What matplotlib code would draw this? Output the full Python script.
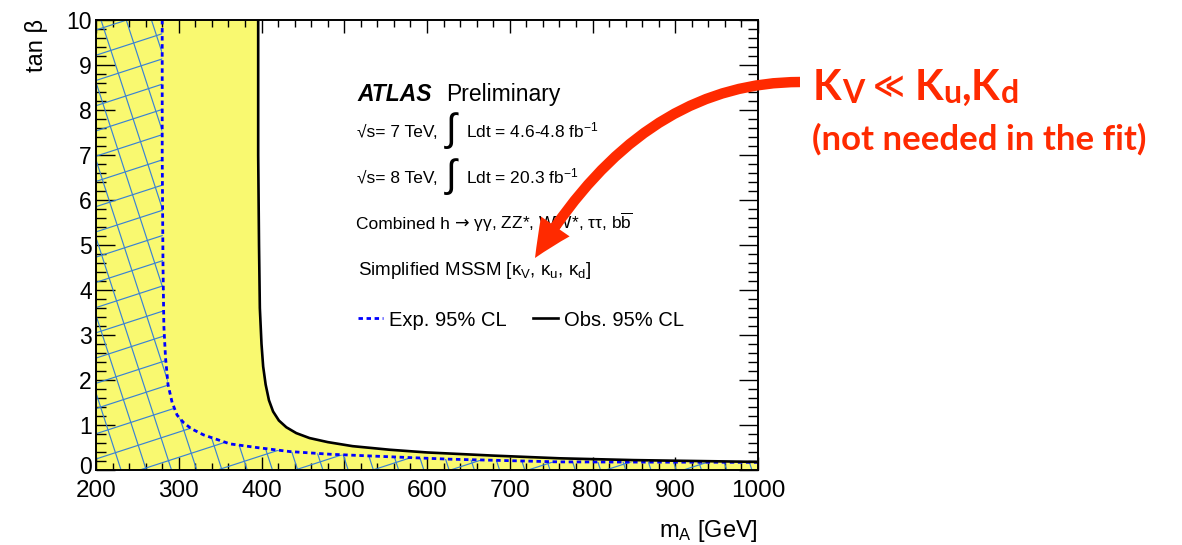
import numpy as np
import matplotlib
matplotlib.use("Agg")
import matplotlib.pyplot as plt
from matplotlib.patches import FancyArrowPatch
from matplotlib.lines import Line2D
from matplotlib.ticker import MultipleLocator
from matplotlib.transforms import ScaledTranslation

plt.rcParams['font.family'] = ['Liberation Sans', 'DejaVu Sans']
plt.rcParams['mathtext.fontset'] = 'custom'
plt.rcParams['mathtext.rm'] = 'Liberation Sans'
plt.rcParams['mathtext.it'] = 'Liberation Sans:italic'
plt.rcParams['mathtext.bf'] = 'Liberation Sans:bold'

# ---------------- data ----------------
x_lo, x_hi = 200, 1000
y_lo, y_hi = 0, 10

obs_mA = [396, 396, 397, 398, 400, 402, 405, 409, 414, 421, 430, 442, 458, 480, 510, 555, 600, 680, 760, 850, 1000]
obs_tanb = [10, 7, 5, 3.6, 2.8, 2.3, 1.9, 1.55, 1.3, 1.1, 0.95, 0.82, 0.71, 0.62, 0.53, 0.45, 0.39, 0.32, 0.26, 0.22, 0.18]

exp_mA = [280, 280, 281, 282, 284, 287, 292, 298, 306, 315, 330, 362, 394, 434, 483, 547, 628, 760, 1000]
exp_tanb = [10, 7, 4.5, 3.2, 2.5, 1.9, 1.5, 1.22, 1.05, 0.92, 0.78, 0.58, 0.5, 0.41, 0.35, 0.3, 0.24, 0.18, 0.17]

x_major = list(range(200, 1001, 100))
y_major = list(range(0, 11))

# ---------------- figure ----------------
W, H = 1182, 545
fig = plt.figure(figsize=(W / 100, H / 100), dpi=100)
ax_l, ax_t, ax_r, ax_b = 96, 20, 758, 470
ax = fig.add_axes([ax_l / W, 1 - ax_b / H, (ax_r - ax_l) / W, (ax_b - ax_t) / H])
ax.set_xlim(x_lo, x_hi)
ax.set_ylim(y_lo, y_hi)


def fx(x):
    return x / W


def fy(y):
    return 1 - y / H


yellow = '#f9f970'
hatch_col = '#3a82d4'

# observed excluded region (yellow)
ox = np.r_[x_lo, x_lo, obs_mA, x_hi]
oy = np.r_[y_lo, y_hi, obs_tanb, y_lo]
ax.fill(ox, oy, facecolor=yellow, edgecolor='none', zorder=1)

# expected excluded region (hatched)
ex = np.r_[x_lo, x_lo, exp_mA, x_hi]
ey = np.r_[y_lo, y_hi, exp_tanb, y_lo]
clip_poly = ax.fill(ex, ey, facecolor='none', edgecolor='none', zorder=2)[0]

aw, ah = ax_r - ax_l, ax_b - ax_t
spacing = 24.0
a1 = np.deg2rad(18.0)
a2 = np.deg2rad(-72.0)
for k in range(-40, 60):
    # shallow family
    v0 = ah - 10 - k * spacing / np.cos(a1)
    us = np.array([-200.0, aw + 200.0])
    vs = v0 + np.tan(a1) * us
    ln = Line2D(us / aw, vs / ah, transform=ax.transAxes, color=hatch_col, lw=0.85, zorder=2)
    ax.add_line(ln)
    ln.set_clip_path(clip_poly)
    # steep family
    u0 = 5 + k * spacing / np.sin(-a2)
    vv = np.array([-200.0, ah + 200.0])
    uu = u0 + (vv - ah) / np.tan(a2)
    ln2 = Line2D(uu / aw, vv / ah, transform=ax.transAxes, color=hatch_col, lw=0.85, zorder=2)
    ax.add_line(ln2)
    ln2.set_clip_path(clip_poly)

exp_line, = ax.plot(exp_mA, exp_tanb, color='#0000ff', lw=2.0, linestyle=(0, (1.6, 1.3)),
                    zorder=3, label='Exp. 95% CL')
obs_line, = ax.plot(obs_mA, obs_tanb, color='black', lw=1.9, zorder=4, label='Obs. 95% CL')

# ticks
ax.set_xticks(x_major)
ax.set_yticks(y_major)
ax.xaxis.set_minor_locator(MultipleLocator(20))
ax.yaxis.set_minor_locator(MultipleLocator(0.2))
ax.tick_params(which='both', direction='in', top=True, right=True, width=1.0)
ax.tick_params(axis='x', which='major', length=9.5, pad=7, labelsize=17.5)
ax.tick_params(axis='x', which='minor', length=5)
ax.tick_params(axis='y', which='major', length=13.5, pad=3, labelsize=16.5)
ax.tick_params(axis='y', which='minor', length=7)
for s in ax.spines.values():
    s.set_linewidth(1.4)
    s.set_zorder(6)
# lift the "0" label a little so it does not touch "200" (as in the reference)
lab0 = ax.yaxis.get_major_ticks()[0].label1
lab0.set_transform(lab0.get_transform() + ScaledTranslation(0, 0.05, fig.dpi_scale_trans))

# axis titles
fig.text(fx(36), fy(19), 'tan \u03b2', rotation=90, ha='center', va='top', size=17)
fig.text(fx(758), fy(537), r'm$_{\mathrm{A}}$ [GeV]', ha='right', va='baseline', size=17)

# text block
fig.text(fx(357), fy(101), 'ATLAS', ha='left', va='baseline', size=16.5, fontweight='bold', fontstyle='italic')
fig.text(fx(446), fy(101), 'Preliminary', ha='left', va='baseline', size=16.5)

fig.text(fx(357), fy(137), '\u221as= 7 TeV,', ha='left', va='baseline', size=12.5)
fig.text(fx(446), fy(131), '\u222b', ha='left', va='center', size=28)
fig.text(fx(466), fy(137), r'Ldt = 4.6-4.8 fb$^{\mathrm{-1}}$', ha='left', va='baseline', size=12.5)

fig.text(fx(357), fy(183), '\u221as= 8 TeV,', ha='left', va='baseline', size=12.5)
fig.text(fx(446), fy(177), '\u222b', ha='left', va='center', size=28)
fig.text(fx(466), fy(183), r'Ldt = 20.3 fb$^{\mathrm{-1}}$', ha='left', va='baseline', size=12.5)

renderer = fig.canvas.get_renderer()
comb_pieces = [('Combined h ', ['Liberation Sans']),
               ('\u2192', ['DejaVu Sans']),
               (' \u03b3\u03b3, ZZ*, WW*, \u03c4\u03c4, b$\\overline{\\mathrm{b}}$', ['Liberation Sans', 'DejaVu Sans'])]
xcur = 356
for txt, fam in comb_pieces:
    t = fig.text(fx(xcur), fy(229), txt, ha='left', va='baseline', size=12.5, family=fam)
    xcur += t.get_window_extent(renderer).width

fig.text(fx(358), fy(275), 'Simplified MSSM [\u03ba$_{\\mathrm{V}}$, \u03ba$_{\\mathrm{u}}$, \u03ba$_{\\mathrm{d}}$]',
         ha='left', va='baseline', size=13.5)

ax.legend(handles=[exp_line, obs_line], ncol=2, frameon=False, fontsize=14.5,
          loc='center left', bbox_to_anchor=(fx(358), fy(320)), bbox_transform=fig.transFigure,
          borderpad=0, borderaxespad=0, handlelength=1.25, handletextpad=0.3, columnspacing=1.3)

# red annotation, laid out piece by piece
red = '#ff2a00'
rfam = ['Lato', 'DejaVu Sans']
pieces = [('K', 30, 0, 1), ('V', 23, 3, 8), ('\u226a', 22, -4, 10), ('K', 30, 0, 0),
          ('u', 23, 3, 0), (',', 30, 0, 0), ('K', 30, 0, 1), ('d', 23, 3, 0)]
xcur = 813
for txt, sz, dy, gap_after in pieces:
    t = fig.text(fx(xcur), fy(100 + dy), txt, color=red, size=sz, fontweight='bold',
                 family=rfam, va='baseline', ha='left')
    bb = t.get_window_extent(renderer)
    xcur += bb.width + gap_after
fig.text(fx(812), fy(150), '(not needed in the fit)', color=red, size=25, fontweight='bold',
         family=rfam, va='baseline')

arrow = FancyArrowPatch((fx(800), fy(82)), (fx(535), fy(258)), transform=fig.transFigure,
                        arrowstyle='simple,head_width=25,head_length=27,tail_width=7.5',
                        connectionstyle='angle3,angleA=180,angleB=59',
                        shrinkA=0, shrinkB=0, color=red, lw=0, zorder=10)
fig.add_artist(arrow)

fig.savefig('out.png', dpi=100)
